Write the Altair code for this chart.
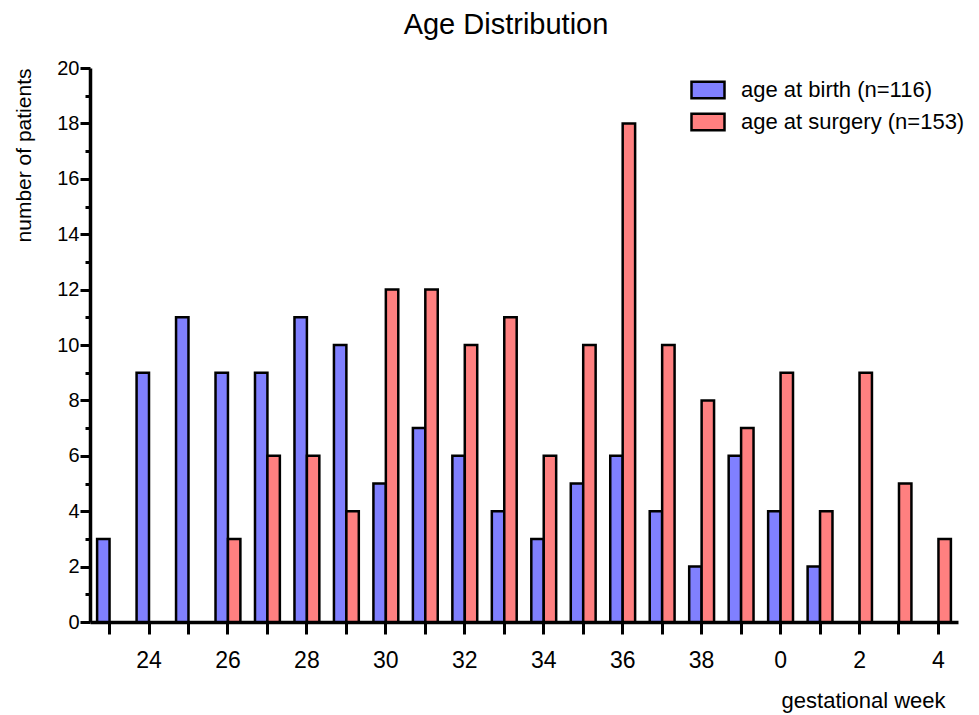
import json
import altair as alt
import pandas as pd

weeks = list(range(23, 45))
birth = [3, 9, 11, 9, 9, 11, 10, 5, 7, 6, 4, 3, 5, 6, 4, 2, 6, 4, 2, 0, 0, 0]
surgery = [0, 0, 0, 3, 6, 6, 4, 12, 12, 10, 11, 6, 10, 18, 10, 8, 7, 9, 4, 9, 5, 3]
tick_labels = ["", "24", "", "26", "", "28", "", "30", "", "32", "", "34",
               "", "36", "", "38", "", "0", "", "2", "", "4"]
series = ["age at birth (n=116)", "age at surgery (n=153)"]
colors = ["#8080ff", "#ff8080"]

rows = []
for w, b, s in zip(weeks, birth, surgery):
    rows.append({"week": w, "series": series[0], "count": b})
    rows.append({"week": w, "series": series[1], "count": s})
df = pd.DataFrame(rows)
df = df[df["count"] > 0]

FONT = "Liberation Sans"
label_expr = f"{json.dumps(tick_labels)}[indexof({json.dumps(weeks)}, datum.value)]"

chart = alt.Chart(df).mark_bar(stroke="black", strokeWidth=2.5, opacity=1).encode(
    x=alt.X(
        "week:O",
        scale=alt.Scale(domain=weeks, paddingInner=0.37, paddingOuter=0.18),
        axis=alt.Axis(
            title="gestational week", labelExpr=label_expr, labelAngle=0,
            domainColor="black", domainWidth=3.5, tickColor="black", tickWidth=3,
            tickSize=12, labelFont=FONT, labelFontSize=23, labelColor="black",
            labelPadding=15, titleFont=FONT, titleFontSize=22, titleFontWeight="normal",
            titleColor="black", titleX=855, titleY=85, titleAlign="right",
            titleBaseline="alphabetic", grid=False,
        ),
    ),
    xOffset=alt.XOffset("series:N", scale=alt.Scale(domain=series, paddingInner=0, paddingOuter=0)),
    y=alt.Y(
        "count:Q",
        scale=alt.Scale(domain=[0, 20], nice=False),
        axis=alt.Axis(
            title="number of patients", values=list(range(0, 21)),
            labelExpr="datum.value % 2 == 0 ? datum.label : ''",
            tickSize={"condition": {"test": "datum.value % 2 == 1", "value": 5}, "value": 10},
            domainColor="black", domainWidth=3.5, tickColor="black", tickWidth=3,
            labelFont=FONT, labelFontSize=20, labelColor="black", labelPadding=1,
            titleFont=FONT, titleFontSize=21, titleFontWeight="normal", titleColor="black",
            titleX=-66, titleY=87, titleAlign="center", titleBaseline="middle", grid=False,
        ),
    ),
    color=alt.Color(
        "series:N",
        scale=alt.Scale(domain=series, range=colors),
        legend=alt.Legend(
            title=None, orient="none", legendX=600, legendY=4, padding=0,
            symbolType="M-1,-0.5L1,-0.5L1,0.5L-1,0.5Z", symbolSize=1089,
            symbolStrokeColor="black", symbolStrokeWidth=2.5, symbolOpacity=1,
            labelFont=FONT, labelFontSize=22, labelColor="black", labelOffset=15,
            rowPadding=-1, labelLimit=400,
        ),
    ),
).properties(
    width=868,
    height=554,
    background="white",
    title=alt.TitleParams(
        "Age Distribution", font=FONT, fontSize=29, fontWeight="normal", color="black",
        anchor="middle", frame="group", dx=-18, offset=18,
    ),
    autosize=alt.AutoSizeParams(type="none"),
    padding={"left": 82, "top": 60, "right": 12, "bottom": 92},
).configure_view(stroke="transparent", strokeWidth=0)

chart.save("out.html", embed_options={"renderer": "svg", "actions": False})
